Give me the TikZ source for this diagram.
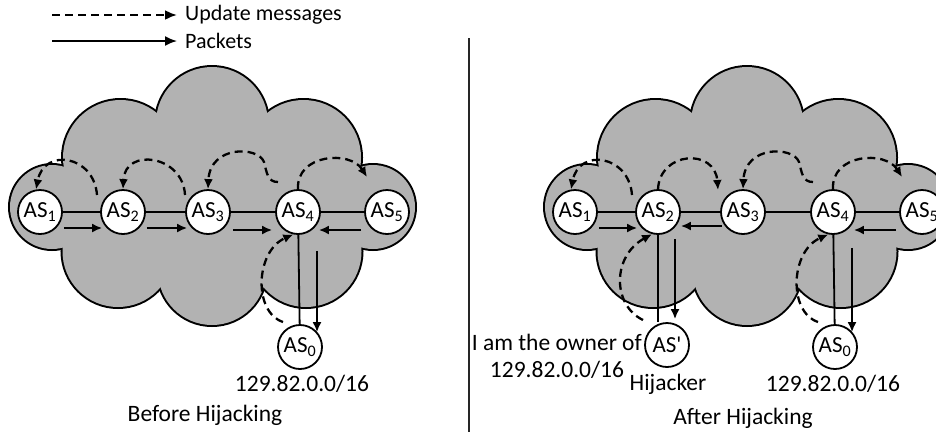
\documentclass[tikz,border=0pt]{standalone}
\usepackage{fontspec}
\setmainfont{Carlito}
\usetikzlibrary{arrows.meta,calc}
\definecolor{cloudgray}{RGB}{178,178,178}
\tikzset{
  asnode/.style={circle,draw,line width=1.8pt,fill=white,minimum size=44pt,inner sep=0pt,font=\fontsize{23}{26}\selectfont},
  link/.style={line width=1.8pt},
  pkt/.style={line width=1.8pt,-{Latex[length=10pt,width=9pt]}},
  upd/.style={line width=2.3pt,dash pattern=on 8pt off 5pt,-{Latex[length=10pt,width=9pt]}},
  lbl/.style={font=\fontsize{23.5}{26}\selectfont,inner sep=0pt},
  leg/.style={font=\fontsize{22}{26}\selectfont,inner sep=0pt},
  divider/.style={line width=1.6pt,black!85},
}
\newcommand\mycloud[1]{%
  \begin{scope}[shift={(#1,0)}]
    \foreach \cx/\cy/\r in {212/123/56,120.5/157.5/57.5,303.5/157.5/57.5,52/207/42,373/207/42,118/251.5/55.5,306/251.5/55.5,212/271/54}
      {\draw[line width=4pt] (\cx,\cy) circle[radius=\r pt];}
    \foreach \cx/\cy/\r in {212/123/56,120.5/157.5/57.5,303.5/157.5/57.5,52/207/42,373/207/42,118/251.5/55.5,306/251.5/55.5,212/271/54}
      {\fill[cloudgray] (\cx,\cy) circle[radius=\r pt];}
    \fill[cloudgray] (75,160) rectangle (350,255);
  \end{scope}}
\begin{document}
\begin{tikzpicture}[x=1pt,y=-1pt]
\useasboundingbox (0,0) rectangle (936,432);
\clip (0,0) rectangle (936,432);
\fill[white] (0,0) rectangle (936,432);

% legend
\coordinate (lds) at (52,15);
\coordinate (lss) at (52,41);
\node[leg,anchor=west,inner xsep=8pt] (lu) at (177,15) {Update messages};
\node[leg,anchor=west,inner xsep=8pt] (lp) at (177,41) {Packets};
\draw[upd,-{Latex[length=12pt,width=10pt]}] (lds) -- (lu.west);
\draw[pkt,-{Latex[length=12pt,width=10pt]}] (lss) -- (lp.west);

% divider
\coordinate (dtop) at (469,38);
\coordinate (dbot) at (469,432);
\draw[divider] (dtop) -- (dbot);

% clouds
\mycloud{0}
\mycloud{535}

% ---------- left panel ----------
\node[asnode] (a1) at (40,212) {AS\textsubscript{1}};
\node[asnode] (a2) at (123,212) {AS\textsubscript{2}};
\node[asnode] (a3) at (208,212) {AS\textsubscript{3}};
\node[asnode] (a4) at (298,212) {AS\textsubscript{4}};
\node[asnode] (a5) at (387,212) {AS\textsubscript{5}};
\node[asnode] (a0) at (300,347) {AS\textsubscript{0}};

\draw[link] (a1) -- (a2);
\draw[link] (a2) -- (a3);
\draw[link] (a3) -- (a4);
\draw[link] (a4) -- (a5);
\draw[link] (a4) -- (a0);

\draw[pkt] ($(a1.east)+(1,16)$) -- ($(a2.west)+(2,16)$);
\draw[pkt] ($(a2.east)+(1,16)$) -- ($(a3.west)+(2,16)$);
\draw[pkt] ($(a3.east)+(2,18)$) -- ($(a4.west)+(-3,18)$);
\draw[pkt] ($(a5.west)+(-3,18)$) -- ($(a4.east)+(-2,18)$);
\draw[pkt] ($(a4.south)+(19,16)$) -- ($(a0.north)+(17,8)$);

\draw[upd] ($(a2)+(-26,-17)$) .. controls +(-3,-40) and +(8,-42) .. (a1.100);
\draw[upd] ($(a3)+(-23,-17)$) .. controls +(-2,-40) and +(2,-42) .. (a2.north);
\draw[upd] ($(a4)+(-20,-30)$) .. controls +(-10,0) and +(3,12) .. ($(a4)+(-34,-50)$)
            .. controls +(-6,-16) and +(2,-44) .. (a3.north);
\draw[upd] (a4.north) .. controls +(-2,-35) and +(-17,-27) .. ($(a5)+(-20,-35)$);
\draw[upd] ($(a0)+(-17,-25)$) .. controls +(-30,-10) and +(-38,17) .. (a4.258);

\node[lbl] (pl) at (302,384) {129.82.0.0/16};
\node[lbl] (bh) at (205,415) {Before Hijacking};

% ---------- right panel ----------
\node[asnode] (b1) at (575,212) {AS\textsubscript{1}};
\node[asnode] (b2) at (658,212) {AS\textsubscript{2}};
\node[asnode] (b3) at (743,212) {AS\textsubscript{3}};
\node[asnode] (b4) at (833,212) {AS\textsubscript{4}};
\node[asnode] (b5) at (922,212) {AS\textsubscript{5}};
\node[asnode] (b0) at (835,347) {AS\textsubscript{0}};
\node[asnode] (bp) at (667,345) {AS\textquotesingle};

\draw[link] (b1) -- (b2);
\draw[link] (b2) -- (b3);
\draw[link] (b3) -- (b4);
\draw[link] (b4) -- (b5);
\draw[link] (b4) -- (b0);
\draw[link] (b2) -- (b2 |- bp.north);

\draw[pkt] ($(b1.east)+(1,16)$) -- ($(b2.west)+(2,16)$);
\draw[pkt] ($(b3.west)+(2,14)$) -- ($(b2.east)+(0,14)$);
\draw[pkt] ($(b5.west)+(-3,18)$) -- ($(b4.east)+(-2,18)$);
\draw[pkt] ($(b2.south)+(17,4)$) -- ($(bp.north)+(8,-3)$);
\draw[pkt] ($(b4.south)+(19,13)$) -- ($(b0.north)+(17,8)$);

\draw[upd] ($(b2)+(-26,-17)$) .. controls +(-3,-40) and +(8,-42) .. (b1.100);
\draw[upd] (b2.north) .. controls +(2,-38) and +(-3,-42) .. ($(b3)+(-25,-22)$);
\draw[upd] ($(b4)+(-20,-30)$) .. controls +(-10,0) and +(3,12) .. ($(b4)+(-34,-50)$)
            .. controls +(-6,-16) and +(2,-44) .. (b3.north);
\draw[upd] (b4.north) .. controls +(-2,-35) and +(-17,-27) .. ($(b5)+(-20,-35)$);
\draw[upd] ($(b0)+(-17,-25)$) .. controls +(-30,-10) and +(-38,17) .. (b4.258);
\draw[upd] ($(bp)+(-24,-25)$) .. controls +(-31,-15) and +(-40,22) .. (b2.255);

\node[lbl,anchor=east] (own) at (642,342) {I am the owner of};
\node[lbl] (pfx) at (557,370) {129.82.0.0/16};
\node[lbl] (hj) at (668,384) {Hijacker};
\node[lbl] (pr) at (833,384) {129.82.0.0/16};
\node[lbl] (ah) at (743,418) {After Hijacking};
\end{tikzpicture}
\end{document}
